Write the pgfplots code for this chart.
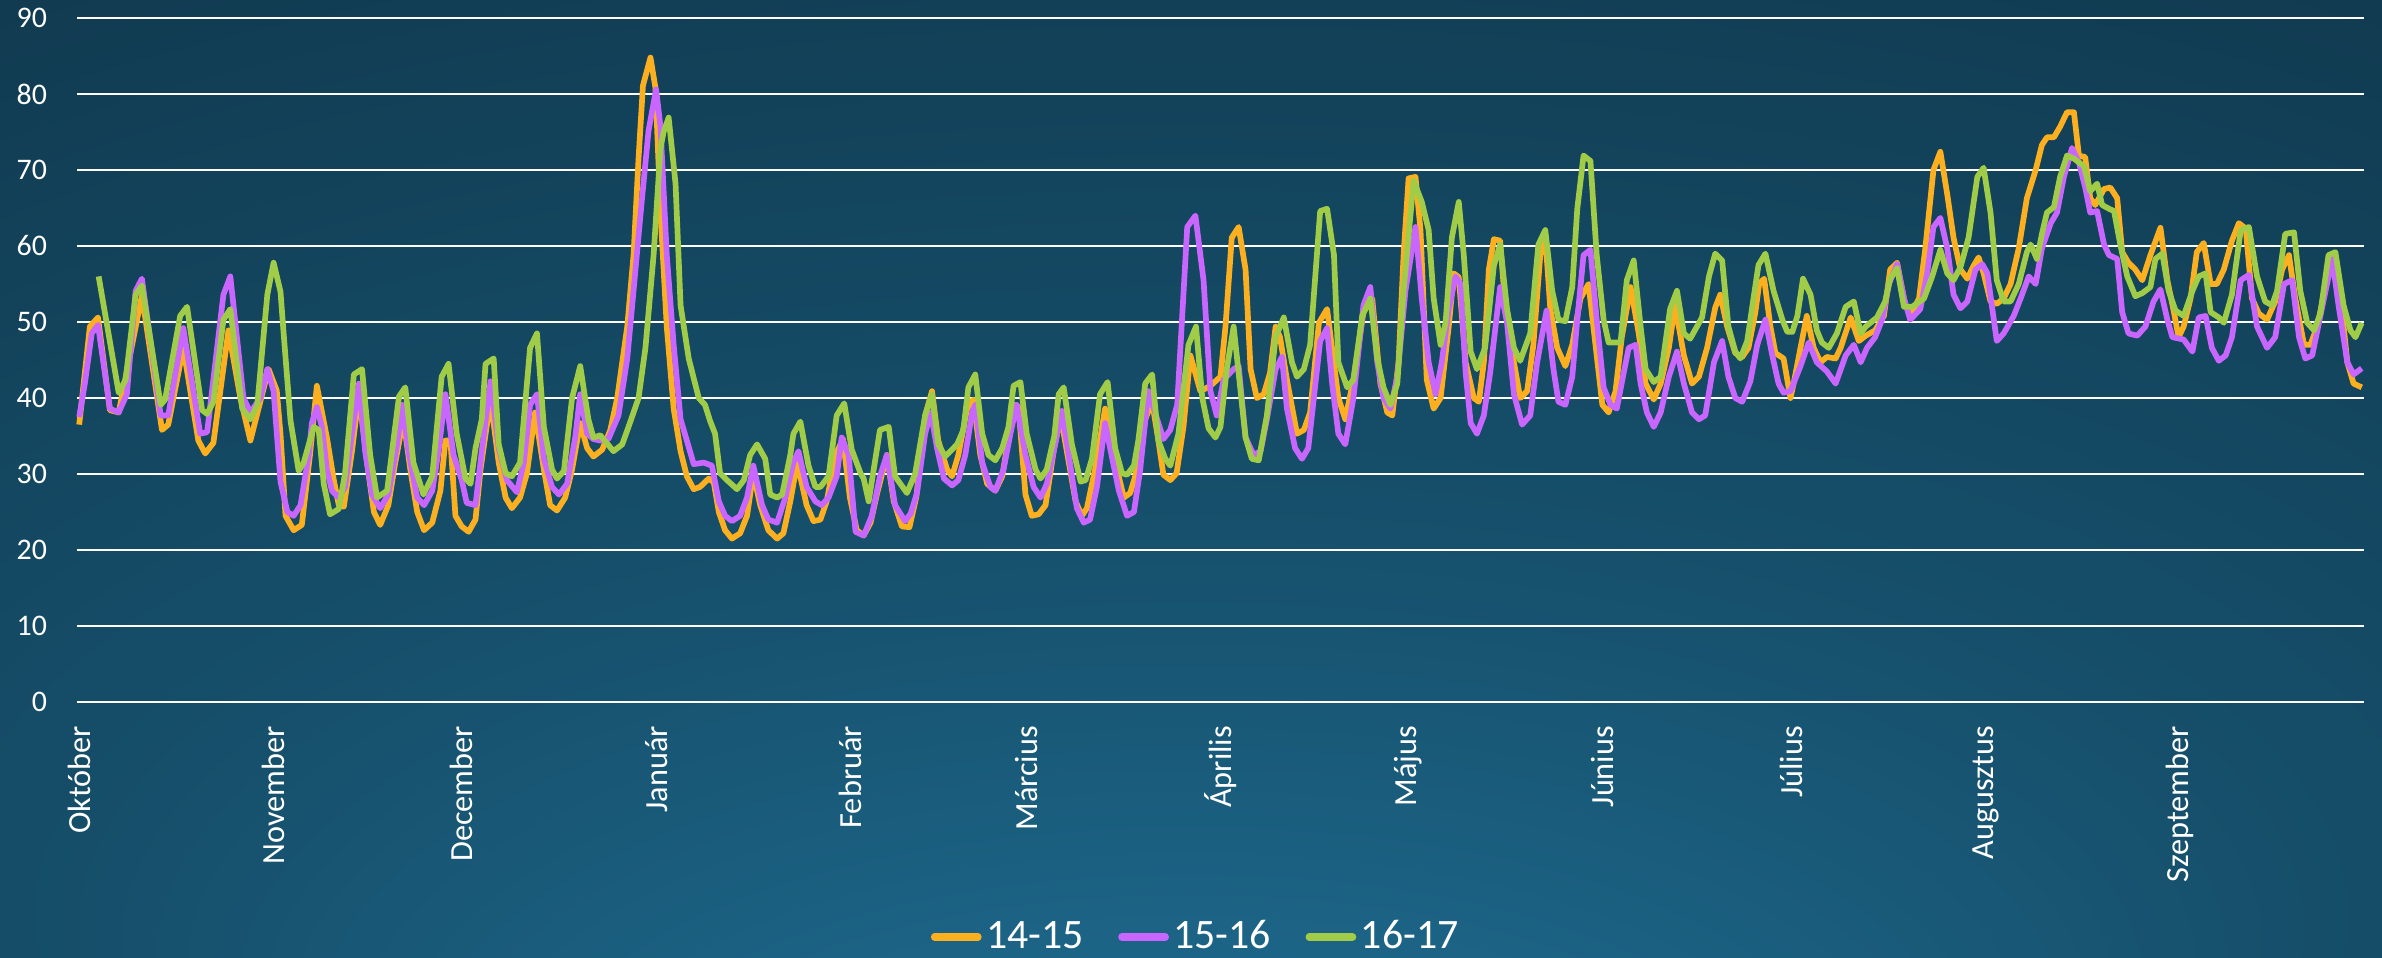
\documentclass[border=0pt]{standalone}
\usepackage{pgfplots}
\pgfplotsset{compat=1.18}
\usepackage{fontspec}
\setmainfont{Carlito}
\definecolor{c1}{RGB}{252,176,32}
\definecolor{c2}{RGB}{200,102,255}
\definecolor{c3}{RGB}{160,204,72}
\definecolor{bgdark}{RGB}{14,49,68}
\definecolor{bgmid}{RGB}{22,80,108}
\definecolor{bglight}{RGB}{34,118,158}
\pgfdeclareradialshading{bgshade}{\pgfpoint{0bp}{-44bp}}{color(0bp)=(bglight); color(22bp)=(bgmid); color(50bp)=(bgdark)}
\begin{document}
\begin{tikzpicture}
\shade[shading=bgshade] (0,0) rectangle (794bp,319.33bp);
\path[use as bounding box] (0,0) rectangle (794bp,319.33bp);
\begin{axis}[
  at={(25.67bp,85.33bp)}, anchor=south west,
  scale only axis, width=762.3bp, height=228bp,
  xmin=-0.35, xmax=364.35, ymin=0, ymax=90,
  axis line style={draw=none},
  major tick length=0pt,
  ytick={0,10,...,90},
  ymajorgrids, grid style={white, line width=0.8bp},
  xtick={0,31,61,92,123,151,182,212,243,273,304,335},
  xticklabels={Október,November,December,Január,Február,Március,Április,Május,Június,Július,Augusztus,Szeptember},
  tick label style={font=\fontsize{10}{12}\selectfont, text=white},
  xticklabel style={rotate=90, anchor=east, font=\fontsize{10.8}{12}\selectfont},
  xticklabel shift=4.5bp,
  yticklabel shift=6.5bp,
  /pgf/number format/assume math mode=true,
  clip=false,
  legend style={at={(0.4897,-0.3436)}, anchor=center, draw=none, fill=none,
    legend columns=3, font=\fontsize{14}{16}\selectfont, text=white,
    nodes={inner sep=1.5bp},
    /tikz/every even column/.append style={column sep=10bp}},
  legend image code/.code={\draw[#1, line width=2.4bp, line cap=round] (0bp,0bp) -- (14.5bp,0bp);},
  every axis plot/.append style={line width=1.9bp, line join=round, mark=none},
]
\addplot[c1] coordinates {(0,36.5)(1.7,49.4)(3,50.6)(4.9,38.4)(6.3,38.1)(10,53.5)(13.2,35.8)(14.2,36.5)(16.6,46.6)(19,34.4)(20.1,32.7)(21.4,34.1)(23.8,48.9)(25.7,40)(27.3,34.4)(30.2,43.8)(31.5,41)(32.1,35.3)(32.9,24.5)(34.2,22.6)(35.5,23.3)(36.8,32.5)(37.9,41.6)(39.5,34.8)(40.6,29.2)(41.4,25.9)(42.2,25.7)(43.5,33)(44.6,40.5)(45.9,31.5)(47,25)(48,23.3)(49.3,25.9)(50.4,31.5)(51.7,37.2)(52.8,30.6)(53.9,25)(55,22.6)(56.3,23.6)(57.6,27.8)(58.4,34.4)(59.2,34.4)(60,24.5)(61,23.1)(62.1,22.4)(63.2,24)(64,30.6)(65.6,39.8)(66.9,31.5)(68,26.9)(69,25.5)(70.3,26.9)(71.4,30.1)(72.7,38.1)(74.1,30.6)(75.1,25.9)(76.2,25.2)(77.5,26.9)(78.6,30.6)(79.9,36.7)(81,33.4)(82,32.3)(83.4,33.2)(84.7,35.8)(85.8,40)(87.4,49.4)(88.4,58.8)(89.2,71.5)(89.9,81.1)(91.1,84.8)(91.9,80.8)(92.7,64.4)(93.7,49.4)(94.8,38.6)(95.9,33)(96.9,29.7)(98,28)(99,28.3)(100.4,29.4)(101.2,28.9)(102,25)(103,22.6)(104.1,21.5)(105.4,22.2)(106.5,24.5)(107.5,30.1)(108.6,25.9)(109.9,22.6)(111.3,21.5)(112.3,22.2)(113.4,26.4)(114.5,31.5)(116,25.9)(117.1,23.8)(118.2,24)(119.2,26.4)(120.6,32.5)(121.8,34.6)(122.9,26.9)(124,22.6)(125.1,21.9)(126.2,23.6)(127.2,27.3)(128.8,32.5)(129.9,26.4)(131.2,23.1)(132.4,23)(133.5,27)(134.9,37.7)(136,40.9)(137,34.4)(138.4,30.6)(139.2,29.7)(140.2,32.5)(141.6,38.6)(142.6,39.8)(143.7,32.5)(144.8,28.7)(146.1,27.8)(147.2,29.7)(148.2,34.8)(149.3,39.1)(149.8,38.8)(150.9,27.3)(151.9,24.5)(153,24.7)(154.1,25.9)(155.4,33)(156.5,37.7)(157.5,33)(158.9,26.4)(159.9,24.5)(160.7,25.5)(162,30.6)(163.6,38.6)(164.4,36.2)(165.5,30.6)(166.6,26.9)(167.6,27.5)(168.4,29.7)(170,37.2)(171.1,39.5)(172.1,34.4)(172.9,29.9)(174,29.2)(175,30.1)(176.1,36.2)(177.2,45.6)(178.8,40.9)(180.4,41.6)(182,42.8)(182.8,49.4)(183.8,61.1)(184.9,62.5)(186,56.9)(186.8,43.8)(187.8,40)(188.9,40.5)(189.9,43.3)(190.8,49.4)(191.5,48)(192.6,42.4)(194.2,35.3)(195.3,35.8)(196.3,38.1)(197.7,49.9)(199,51.7)(200.8,40)(201.9,37.2)(203.2,42.4)(204.8,51.3)(206.2,53.1)(207.5,41.9)(208.6,38.1)(209.4,37.7)(210.4,44.7)(211.2,58.8)(212,68.9)(213.1,69.1)(213.9,62.1)(214.9,42.4)(216,38.6)(217.1,40)(218.4,49.4)(219.2,56.4)(220,55.9)(221.1,44.7)(222.4,40)(223.2,39.5)(224,44.7)(224.8,56.9)(225.6,60.9)(226.6,60.7)(227.4,52.2)(228.8,44.7)(229.8,40)(230.9,40.9)(231.9,47)(233,58.8)(233.8,61.3)(234.6,51.7)(235.7,46.6)(237,44.2)(238.1,47)(239.4,53.1)(240.7,55)(241.8,47)(242.9,39.1)(243.9,38.1)(245,40.9)(246,48)(247.4,54.6)(248.7,48.5)(249.8,41.9)(251.1,39.8)(252.2,41.9)(253.5,46.6)(254.5,52.2)(255.9,45.6)(257.2,41.9)(258.3,42.8)(259.6,46.6)(260.9,51.9)(261.7,53.6)(262.8,49.4)(264.1,45.9)(265.2,45.4)(266.2,46.6)(267.3,51.3)(267.9,55)(268.7,55.7)(269.7,49.4)(270.5,45.9)(271.8,45.2)(272.9,40)(273.4,41.9)(274.5,46.6)(275.5,50.8)(276.6,46.6)(277.7,44.7)(278.7,45.4)(280.1,45.2)(280.9,46.6)(282.5,50.6)(283.8,47.5)(284.9,48.2)(286.4,48.9)(287.8,50.8)(288.8,56.9)(289.9,57.8)(291.2,52.2)(292.3,51.3)(293.4,53.1)(294.4,59.7)(295.7,70)(296.8,72.4)(297.9,66.8)(298.9,61.1)(300,56.9)(301.1,55.7)(302.1,57.4)(302.9,58.5)(303.7,56.4)(304.8,52.7)(305.8,52.4)(306.9,53.1)(308,55)(309.3,59.7)(310.6,66.3)(312,70)(313,73.3)(313.8,74.3)(314.9,74.3)(315.9,75.7)(317,77.6)(318.1,77.6)(318.9,71.9)(319.9,71.7)(320.7,66.3)(321.5,65.4)(322.9,67.5)(323.9,67.7)(325,66.3)(325.8,59.2)(326.8,57.8)(327.9,56.9)(329,55.5)(330.3,58.8)(331.9,62.4)(333,55.5)(334,51.5)(334.8,48)(335.6,49.4)(336.7,53.1)(337.7,59.2)(338.8,60.4)(339.9,55)(340.9,55)(342,56.9)(343.3,60.7)(344.4,63)(345.5,62.3)(346.5,53.1)(347.6,51.1)(348.9,50.3)(350.2,52.7)(351.3,56.9)(352.4,58.8)(353.4,53.1)(354.8,47)(355.8,47)(356.9,49.4)(358.2,54.6)(359.3,58.8)(360.6,53.6)(361.7,44.7)(362.7,41.9)(364,41.4)};
\addlegendentry{14-15}
\addplot[c2] coordinates {(0,37.5)(0.9,41.9)(2,48.5)(3,49.6)(4.9,38.6)(6.3,38.1)(7.6,40.5)(9,54.1)(10,55.7)(13,37.7)(14.2,37.7)(16.6,49.2)(19.3,35.3)(20.4,35.5)(23,53.6)(24.1,56)(26.2,40)(27.3,38.1)(28.9,40)(30,43.8)(31,40.9)(32.1,29)(33.2,25)(34.2,24.5)(35.3,25.9)(36.6,32.5)(37.1,36.7)(37.9,38.8)(38.7,36.2)(39.5,30.6)(40.3,27.8)(41.4,26.9)(42.4,28.3)(43.5,35.3)(44.6,41.9)(45.6,33)(46.7,27.3)(48,25.5)(49.3,27.3)(50.7,33.9)(51.5,39.1)(52.5,33)(53.9,26.9)(55,25.9)(56.3,27.8)(57.3,33)(58.4,40.5)(59.7,32.5)(61,29.2)(61.8,26.2)(63.2,25.9)(64.2,33)(65.6,42.2)(66.9,33.4)(68.2,29.2)(69.8,27.6)(70.9,31.5)(71.9,39.1)(73,40.5)(74.1,32)(75.4,28.3)(76.5,27.3)(77.8,28.7)(79.1,34.8)(79.9,40.5)(81,35.3)(82,34.6)(83.1,34.4)(84.4,34.6)(86,37.7)(87.4,45.2)(88.4,54.1)(89.7,65.8)(90.8,75.2)(92,80.6)(92.7,75.7)(93.7,58.8)(94.8,47)(95.9,37.2)(96.9,34.4)(98,31.3)(99.6,31.5)(100.9,31.1)(102,26.4)(103,24.5)(104.1,23.8)(105.4,24.5)(106.5,26.9)(107.5,31.1)(108.9,25.9)(109.9,24)(111.3,23.6)(112.6,26.9)(113.9,31.5)(114.7,33)(116,28.3)(117.4,26.4)(118.4,25.9)(119.5,26.9)(120.8,29.7)(121.6,34.8)(122.7,32.5)(123.8,22.4)(125.1,21.9)(126.4,24.5)(127.7,29.7)(128.8,32.5)(130.1,25.9)(131.7,23.8)(132.6,24.8)(133.6,27.5)(134.9,35.3)(135.8,38.1)(136.8,33.4)(137.9,29.4)(139.2,28.5)(140.2,29.2)(141.3,32.5)(142.4,38.1)(142.9,39.1)(144,31.5)(145.3,28.3)(146.1,27.8)(147.4,30.6)(148.5,35.3)(149.5,39.1)(150.9,32.5)(152.2,28.3)(153.3,26.9)(154.3,28.7)(155.4,33)(156.7,38.3)(157.8,32.5)(159.1,25.5)(160.2,23.6)(161.2,24)(162.3,28.3)(163.6,36.7)(164.4,33.4)(165.8,27.8)(167.1,24.5)(168.2,25)(169.2,30.6)(170.5,40.9)(171.9,37.2)(172.9,34.6)(174,35.8)(175.1,39.1)(176.7,62.5)(178,64)(179.3,55.5)(180.4,40.9)(181.4,37.7)(182.5,42.4)(184.1,43.8)(184.9,44.2)(186,34.8)(187.3,32.5)(188.4,33)(189.4,37.2)(190.8,43.8)(191.8,45.4)(192.6,38.6)(193.9,33.4)(195,32)(196,33.4)(197.9,47.5)(199,49.2)(199.8,42)(200.8,35.3)(201.9,33.9)(203.2,40)(204.8,52.2)(205.9,54.6)(207,44.7)(208,40)(209.1,38.6)(210.2,42.8)(211.5,54.1)(213.1,62.5)(214.1,53.1)(215.2,44.7)(216.3,40.5)(217.3,44.7)(218.4,51.7)(219.5,56)(220.3,55)(221.1,43.3)(221.9,36.7)(222.9,35.3)(224,37.7)(225,43.3)(226.6,54.6)(227.7,49.9)(228.8,40.5)(230.1,36.5)(231.4,37.7)(232.5,44.7)(234,51.5)(235.1,43.8)(235.9,39.5)(237,39.1)(238.1,42.8)(238.9,50.3)(239.9,58.8)(241,59.5)(242,50.3)(243.1,41.4)(244.2,39.1)(245.2,38.6)(246.3,43.3)(247.1,46.6)(248.2,47)(249,41.9)(250,38.1)(251.1,36.2)(252.2,38.1)(253.5,42.8)(254.8,46.1)(255.9,41.9)(257.2,38.1)(258.3,37.2)(259.3,37.7)(260.7,44.7)(262,47.5)(263,42.8)(264.1,40)(265.2,39.5)(266.5,42.2)(267.6,47)(268.9,50.3)(270,45.6)(271,41.9)(271.8,40.7)(272.9,40.9)(274.5,44.2)(275.8,47.3)(277.1,44.7)(278.7,43.5)(280.1,41.9)(281.7,45.6)(283,47)(284.1,44.7)(285.1,46.6)(286.4,48)(287.5,50.3)(288.6,55)(289.9,57.6)(291,53.1)(292,50.3)(293.6,51.7)(294.7,56.4)(295.7,62.5)(296.8,63.7)(297.9,59.7)(298.9,53.6)(300,51.8)(301.1,52.7)(302.4,56.9)(303.5,57.6)(304.3,56.4)(305.8,47.5)(306.9,48.5)(308.5,50.8)(309.6,53.1)(310.9,56)(312,55)(313,59.7)(314.4,63)(315.4,64.4)(316.5,69.1)(317.8,72.9)(318.9,71)(319.9,67.7)(320.7,64.4)(321.8,64.6)(322.9,60.2)(323.7,58.8)(325,58.3)(325.8,51.3)(326.8,48.5)(328.2,48.2)(329.5,49.4)(330.8,52.7)(331.9,54.3)(333,50.3)(333.8,48)(335.6,47.7)(337,46.1)(338,50.6)(339.1,50.8)(340.1,46.6)(341.2,44.9)(342.3,45.6)(343.3,48)(344.7,55.5)(346,56.2)(347.3,49.4)(348.9,46.6)(350.2,48)(351.6,55)(352.9,55.5)(354,48)(355,45.2)(356.1,45.6)(357.4,50.8)(359.3,58.3)(360.3,52.2)(361.7,44.7)(362.7,43.1)(364,43.9)};
\addlegendentry{15-16}
\addplot[c3] coordinates {(3.1,56)(6.3,40.7)(7.4,42.4)(9,53.6)(10,54.8)(13,39.1)(13.7,39.8)(16.1,50.8)(17.2,52)(19.6,38.4)(20.4,37.9)(21.4,39.5)(23,50.3)(24.1,51.7)(26,38.6)(27.3,37.2)(28.4,39.1)(30,53.6)(31,57.8)(32.1,54)(32.6,48.5)(33.7,37)(35,30.4)(35.8,31.5)(37.4,36.2)(38.2,35.8)(39,28.7)(40,24.7)(41.4,25.4)(42.4,30.1)(43.8,43.1)(45.1,43.8)(46.4,32.5)(47.5,26.9)(49.1,27.8)(51,40.2)(52,41.4)(53.3,31.5)(54.9,27.3)(56.3,29.7)(57.8,42.8)(58.9,44.5)(60.2,35.3)(61.6,29.4)(62.4,28.7)(63.2,33.4)(64.2,37.2)(64.8,44.5)(66.1,45.2)(66.9,33.9)(68,30.1)(69,29.7)(70.3,31.5)(71.9,46.6)(73,48.5)(74.1,36.2)(75.4,30.6)(76.2,29.4)(77.3,30.4)(78.6,40)(79.9,44.2)(81.2,37.2)(82,34.8)(83.1,35.1)(85.2,33)(86.6,33.9)(87.9,36.9)(89.2,40)(90.3,46.6)(91.6,58.8)(92.7,72.9)(93.2,75)(94,76.9)(95.1,68.2)(95.9,52.2)(97.2,45.2)(98.8,40)(99.8,39.1)(100.6,37)(101.4,35.3)(102.2,30.1)(103.3,29.2)(104.9,28)(106,29.2)(107,32.5)(108.1,33.9)(109.4,32)(110.2,27.3)(111.3,26.9)(112.1,27.3)(113.4,32.5)(113.9,35.3)(115,36.9)(116.3,31.1)(117.4,28.3)(118.2,28.3)(119.5,29.7)(120.8,37.7)(122,39.3)(123.2,33.2)(124.6,30.1)(125.1,29.4)(125.9,26.4)(126.7,30.6)(127.7,35.8)(129.1,36.2)(130.1,29.7)(132,27.5)(133.3,30)(134.9,37.7)(136,40.5)(137,33.9)(138.1,32.3)(140,33.9)(141,35.8)(141.8,41.4)(142.9,43.1)(144,35.3)(145,32.5)(146.1,31.8)(147.2,33.4)(148.2,36.2)(149,41.6)(150.1,42.1)(151.1,35.3)(152.5,30.6)(153.3,29.4)(154.3,30.6)(155.5,35)(156.2,40.5)(157,41.4)(158.3,33.9)(159.7,29)(160.5,29.2)(161.5,32)(162.8,40.5)(164,42.1)(165.2,33.4)(166.3,30.1)(167.1,29.9)(168.2,31.1)(168.9,34.4)(170,41.9)(171.1,43.1)(172.1,34.4)(173.2,32)(174,31.1)(175.3,35.3)(176.9,47)(178.1,49.4)(179.1,40)(180.1,36)(181.2,34.8)(182,36.2)(183,43.8)(184.1,49.4)(186,34.8)(187,32)(188.1,31.8)(189.4,37.7)(190.8,48)(192.1,50.6)(193.4,44.7)(194.2,42.8)(195.3,43.8)(196.3,47)(197.9,64.6)(199,64.9)(200.1,58.8)(200.8,44.7)(202.2,41.4)(203.2,42.4)(204.6,50.8)(205.9,53.1)(207,45.2)(208,41.4)(209.1,39.1)(210.2,41.9)(211.2,54.1)(212.8,68.6)(214.1,65.8)(215.2,62.1)(216,53.1)(217.1,47)(217.9,49.9)(218.9,61.1)(220,65.8)(220.8,58.8)(221.9,46.1)(222.9,43.8)(224.2,46.6)(225.6,57.4)(226.6,60.2)(227.7,51.7)(228.8,46.6)(229.8,44.9)(231.4,48.5)(232.7,60.2)(233.8,62.1)(234.9,54.1)(235.9,50.3)(237,50.1)(238.1,54.6)(238.9,64.9)(239.9,71.9)(241,71.2)(242,58.8)(243.1,50.3)(243.9,47.3)(245.8,47.3)(246.8,55.5)(247.9,58.1)(249,49.4)(249.8,43.8)(251.1,42.1)(252.2,42.8)(253.7,51.7)(254.8,54.1)(255.9,48.5)(256.9,47.8)(258.8,50.6)(259.9,56)(260.9,59)(262,58.1)(263,49.4)(264.1,46.1)(264.9,45.2)(266,47.5)(267,53.1)(267.8,57.5)(268.9,59)(270.2,54.1)(271.6,50.3)(272.4,48.7)(273.2,48.7)(274,50.8)(274.9,55.7)(276.1,53.6)(277.1,48.9)(277.9,47.3)(279,46.6)(280.3,48.5)(281.7,52)(283,52.7)(284.1,48.5)(284.9,49.4)(286.7,50.6)(288,52.7)(288.8,55.7)(289.9,57.1)(291,52)(292.3,52)(294.2,53.1)(295.5,56)(296.8,59.5)(297.9,56.4)(298.9,55.5)(300,57.2)(301.3,61.1)(302.7,69.1)(303.7,70.3)(304.8,64.4)(305.8,55.5)(306.9,52.7)(308,52.7)(309.3,55)(310.6,59.2)(311.2,60.2)(312.2,58.3)(313,61.6)(313.8,64.4)(314.9,65.1)(315.9,69.1)(317,71.9)(318.1,71.5)(319.7,70.5)(320.7,67.2)(321.8,68.2)(322.6,65.4)(323.7,64.9)(324.5,64.6)(325.5,60.2)(326.6,56)(327.9,53.4)(329,53.8)(330.3,54.6)(331.1,58.3)(332.2,59)(333.2,54.1)(334.3,51.5)(335.6,50.8)(337,54.1)(338,56)(339.1,56.4)(339.9,51.3)(341.2,50.6)(342,49.9)(343.3,53.6)(344.7,62.1)(346,62.5)(347.3,56)(348.6,52.7)(349.7,52.2)(350.5,54.1)(351.8,61.6)(353.2,61.8)(354.2,54.1)(355.3,49.9)(356.4,48.9)(357.4,51.1)(358.7,58.8)(359.8,59.2)(361.1,52.2)(362.2,48.9)(363,48)(364,49.9)};
\addlegendentry{16-17}
\end{axis}
\end{tikzpicture}
\end{document}
